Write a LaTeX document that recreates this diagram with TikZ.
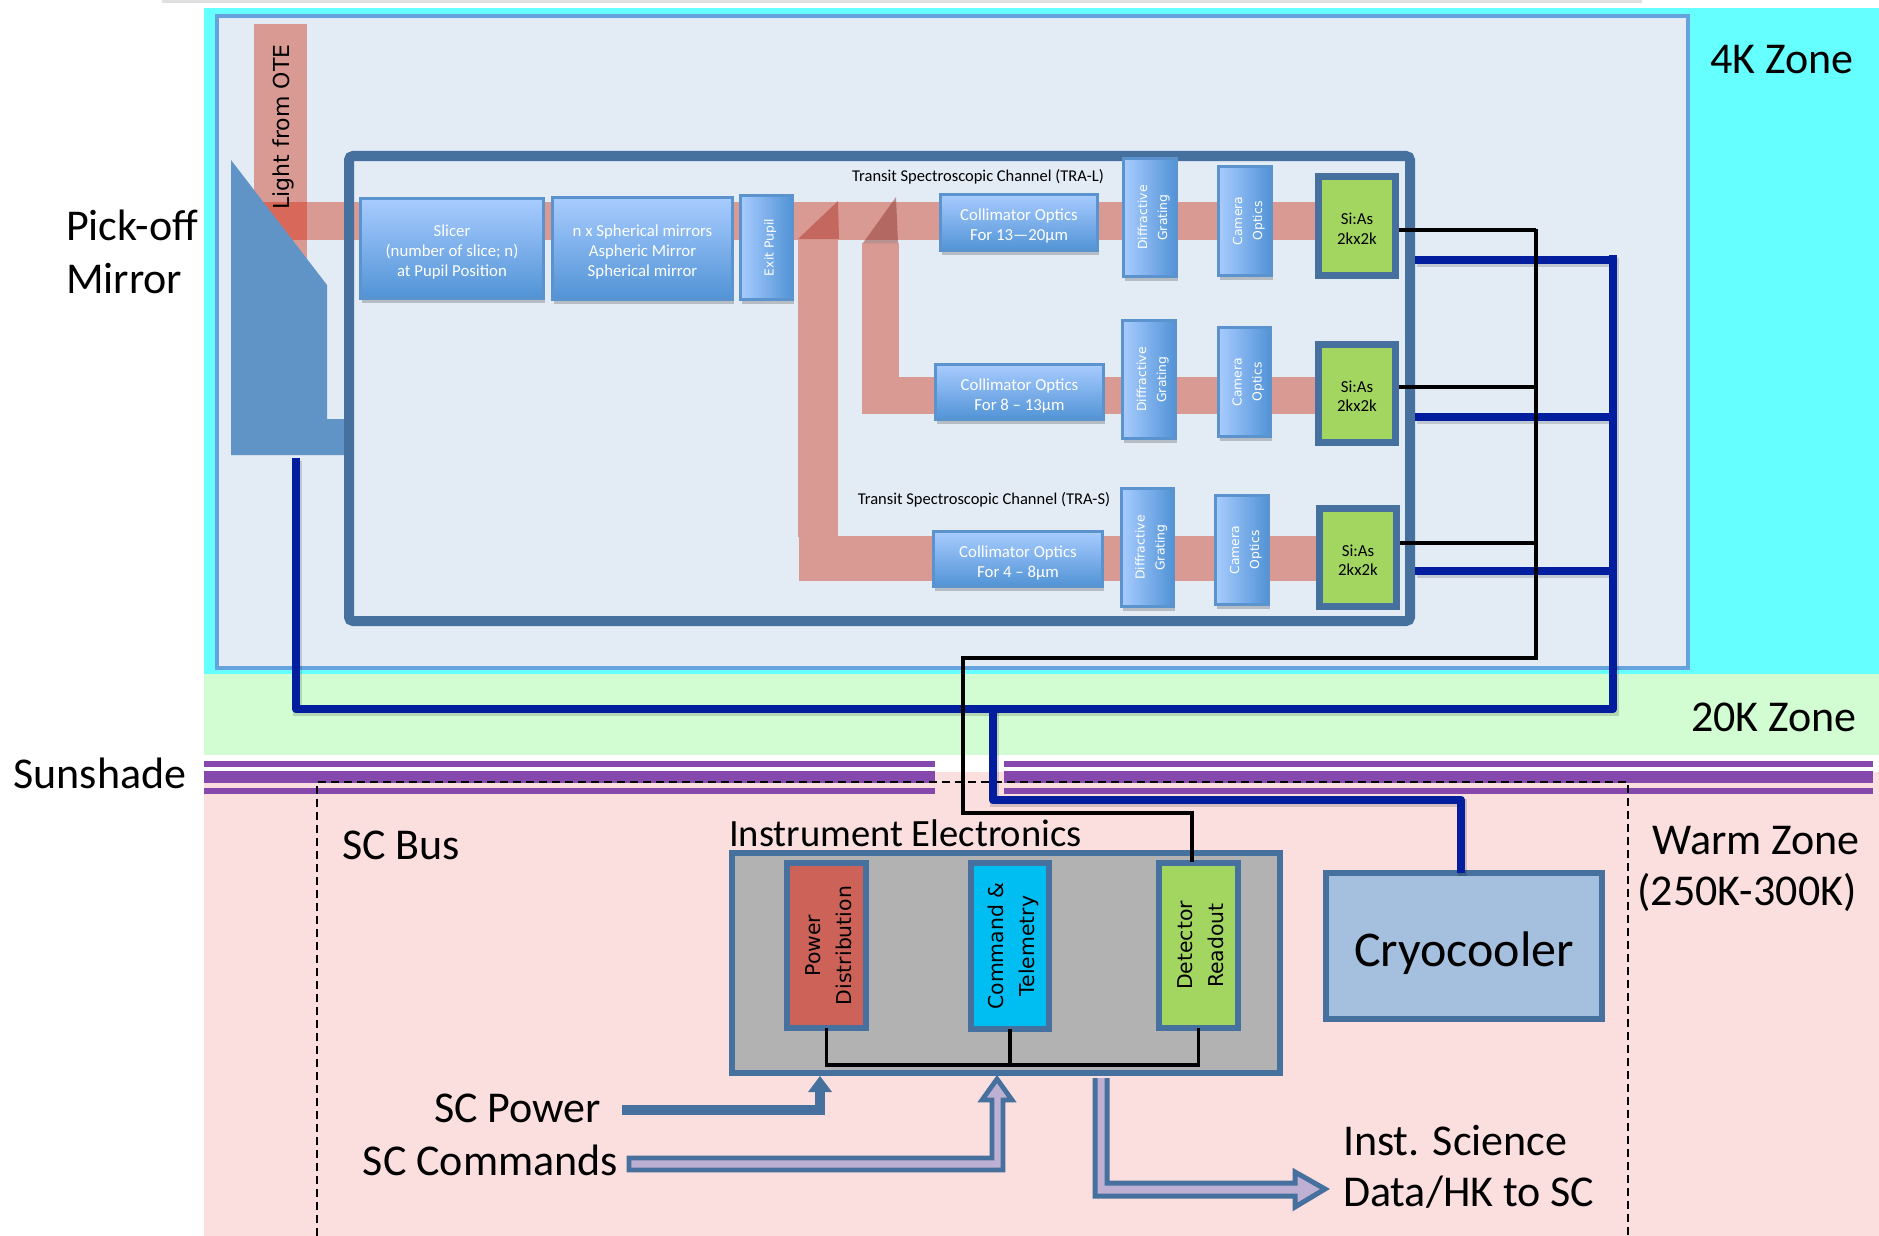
\documentclass[tikz,border=0pt]{standalone}
\usepackage{fontspec}
\usepackage{graphicx}
\setmainfont{Carlito}
\newfontfamily\wide{DejaVu Sans}
\usetikzlibrary{shadows,arrows.meta}
\definecolor{cyanz}{HTML}{66FFFF}
\definecolor{fourk}{HTML}{E3EBF5}
\definecolor{fourkb}{HTML}{66A2DD}
\definecolor{greenz}{HTML}{D2FDD2}
\definecolor{pinkz}{HTML}{FBDFDF}
\definecolor{purp}{HTML}{8549AD}
\definecolor{steel}{HTML}{46709D}
\definecolor{mirror}{HTML}{6093C6}
\definecolor{beam}{HTML}{DA9A94}
\definecolor{beamd}{HTML}{D8695A}
\definecolor{wire}{HTML}{021D9E}
\definecolor{btop}{HTML}{A8CCFF}
\definecolor{bbot}{HTML}{5193D6}
\definecolor{bedge}{HTML}{5A93CE}
\definecolor{lime}{HTML}{A2D661}
\definecolor{redb}{HTML}{CD6358}
\definecolor{skyb}{HTML}{00BEF2}
\definecolor{cryo}{HTML}{A5BFDE}
\definecolor{lil}{HTML}{BEB0D2}
\definecolor{splita}{HTML}{B0352A}
\definecolor{splitb}{HTML}{8E3A32}
\newcommand\fs[2]{\fontsize{#1}{#2}\selectfont}
\newcommand\rot[1]{\hspace*{3pt}\rotatebox{90}{\begin{tabular}{@{}c@{}}#1\end{tabular}}}
\newcommand\tpa{\rule{0pt}{9.5pt}}
\newcommand\tpb{\rule{0pt}{8.5pt}}
\newcommand\bx[8][3]{%
  \pgfmathsetmacro\cx{(#3+#5)/2}\pgfmathsetmacro\cy{(#4+#6)/2}%
  \pgfmathsetmacro\ww{(#5-#3-#1)*0.5}\pgfmathsetmacro\hh{(#6-#4-#1)*0.5}%
  \pgfmathsetmacro\lw{#1*0.5}%
  \node[#7,line width=\lw pt,minimum width=\ww pt,minimum height=\hh pt,inner sep=0pt,outer sep=0pt] (#2) at (\cx,\cy) {#8};}
\tikzset{
  softshadow/.style={drop shadow={shadow xshift=0.5pt,shadow yshift=-2pt,opacity=.2,fill=black}},
  hbox/.style={draw=bedge,top color=btop,bottom color=bbot,softshadow,text=white,align=center,font=\fs{8.4}{9.9}},
  vbox/.style={draw=bedge,left color=btop,right color=bbot,softshadow,text=white,font=\wide\fs{6.2}{10}},
  detbox/.style={draw=steel,fill=lime,text=black,align=center,font=\fs{8.4}{9.9}},
  elbox/.style={draw=steel,text=black,font=\wide\fs{10.2}{15.5}},
  label/.style={inner sep=0pt,outer sep=0pt,text=black},
  bar/.style={fill=purp,draw=none},
  splitter/.style={fill=#1,fill opacity=.5,draw=none},
  signal/.style={draw=black,line width=1.6pt,line join=miter},
  cool/.style={draw=wire,line width=4.2pt,line join=round,preaction={draw=black,draw opacity=.15,line width=4.2pt,transform canvas={xshift=.8pt,yshift=-1.5pt}}},
  bound/.style={draw=black,line width=.6pt,dash pattern=on 4pt off 2.5pt},
  hollow/.style={draw=steel,fill=lil,line width=2.4pt,line join=miter},
}
\begin{document}
\begin{tikzpicture}[x=0.5pt,y=-0.5pt]
\useasboundingbox (0,0) rectangle (1879,1236);
\fill[white] (0,0) rectangle (1879,1236);
% zones
\fill[black!12] (162,0) rectangle (1642,3);
\fill[cyanz] (204,8) rectangle (1879,674);
\fill[fourk,draw=fourkb,line width=2pt] (217,16) rectangle (1688,668);
\fill[greenz] (204,674) rectangle (1879,755);
\fill[pinkz] (204,772) rectangle (1879,1236);
% light path
\fill[beam] (254,24) rectangle (307,270);
\fill[beam] (270,202) rectangle (1320,240);
\fill[beamd] (254,202) rectangle (307,240);
\fill[beam] (798,240) rectangle (838,537);
\fill[beam] (799,536) rectangle (1320,581);
\fill[beam] (862,243) rectangle (899,377);
\fill[beam] (862,377) rectangle (1320,414);
\fill[splitter=splita] (798,239) -- (838,201) -- (839,239) -- cycle;
\fill[splitter=splitb] (863,243) -- (896,197) -- (898,243) -- cycle;
% mirror
\fill[mirror] (231,160) -- (327,285) -- (327,419) -- (344,419) -- (344,455) -- (231,455) -- cycle;
% instrument box
\draw[steel,line width=5pt,rounded corners=2pt] (349,156) rectangle (1410,621);
\node[label,rotate=90,font=\wide\fs{11}{13}] (ote) at (283,127) {Light from OTE};
% optics
\bx{slicer}{359}{197}{545}{300}{hbox}{\tpa Slicer\\(number of slice; n)\\at Pupil Position}
\bx{sphere}{551}{196}{734}{301}{hbox}{\tpa n x Spherical mirrors\\Aspheric Mirror\\Spherical mirror}
\bx{exit}{739}{194}{794}{301}{vbox}{\rot{Exit Pupil}}
\bx{coll}{939}{193}{1099}{252}{hbox}{\tpa Collimator Optics\\For 13---20µm}
\bx{gratl}{1122}{157}{1178}{278}{vbox}{\rot{Diffractive\\Grating}}
\bx{caml}{1217}{165}{1273}{277}{vbox}{\rot{Camera\\Optics}}
\bx[7]{sil}{1315}{173}{1399}{279}{detbox}{\tpb Si:As\\2kx2k}
\bx{colm}{934}{363}{1105}{421}{hbox}{\tpa Collimator Optics\\For 8 -- 13µm}
\bx{gratm}{1121}{319}{1177}{440}{vbox}{\rot{Diffractive\\Grating}}
\bx{camm}{1217}{326}{1272}{438}{vbox}{\rot{Camera\\Optics}}
\bx[7]{sim}{1315}{341}{1399}{446}{detbox}{\tpb Si:As\\2kx2k}
\bx{cols}{932}{530}{1104}{588}{hbox}{\tpa Collimator Optics\\For 4 -- 8µm}
\bx{grats}{1120}{487}{1175}{608}{vbox}{\rot{Diffractive\\Grating}}
\bx{cams}{1214}{494}{1270}{606}{vbox}{\rot{Camera\\Optics}}
\bx[7]{sis}{1316}{505}{1400}{610}{detbox}{\tpb Si:As\\2kx2k}
\node[label,font=\fs{8.25}{10}] (tral) at (978,177) {Transit Spectroscopic Channel (TRA-L)};
\node[label,font=\fs{8.25}{10}] (tras) at (984,500) {Transit Spectroscopic Channel (TRA-S)};
% sunshade
\fill[white] (935,755) rectangle (1004,772);
\fill[bar] (204,761) rectangle (935,767);
\fill[bar] (204,771) rectangle (935,783);
\fill[bar] (204,788) rectangle (935,794);
\fill[bar] (1004,761) rectangle (1873,767);
\fill[bar] (1004,771) rectangle (1873,783);
\fill[bar] (1004,788) rectangle (1873,794);
% boundaries
\coordinate (bl) at (317,782);
\coordinate (br) at (1628,782);
\coordinate (blb) at (317,1236);
\coordinate (brb) at (1628,1236);
\draw[bound] (blb) -- (bl) -- (br) -- (brb);
% electronics
\bx[6]{ie}{729}{850}{1283}{1076}{draw=steel,fill=black!30}{}
\bx[6]{power}{784}{860}{869}{1031}{elbox,fill=redb}{\rot{Power\\Distribution}}
\bx[6]{cmd}{968}{860}{1052}{1032}{elbox,fill=skyb}{\rot{Command \&\\Telemetry}}
\bx[6]{det}{1156}{860}{1241}{1031}{elbox,fill=lime}{\rot{Detector\\Readout}}
\bx[6]{cc}{1323}{870}{1605}{1022}{draw=steel,fill=cryo,font=\fs{25}{28},text=black}{\raisebox{-10pt}[0pt][0pt]{Cryocooler}}
% cooling lines
\coordinate (hw1) at (1415,260);
\coordinate (hw2) at (1415,417);
\coordinate (hw3) at (1415,571);
\coordinate (tw) at (1613,255);
\coordinate (twb) at (1613,709);
\coordinate (mw) at (296,458);
\coordinate (mwb) at (296,709);
\coordinate (jw) at (993,709);
\coordinate (jwb) at (993,800);
\coordinate (cwb) at (1461,800);
\draw[cool] (hw1) -- (hw1 -| tw);
\draw[cool] (hw2) -- (hw2 -| tw);
\draw[cool] (hw3) -- (hw3 -| tw);
\draw[cool] (mw) -- (mwb) -- (twb) -- (tw);
\draw[cool] (jw) -- (jwb) -- (cwb) -- (cwb |- cc.north);
% signal lines
\coordinate (k1) at (1399,230);
\coordinate (k2) at (1399,387);
\coordinate (k3) at (1400,543);
\coordinate (kt) at (1536,229);
\coordinate (kb) at (1536,658);
\coordinate (kl) at (963,658);
\coordinate (kd) at (963,813);
\coordinate (kr) at (1192,813);
\coordinate (ke) at (1192,862);
\draw[signal] (k1) -- (k1 -| kt);
\draw[signal] (k2) -- (k2 -| kt);
\draw[signal] (k3) -- (k3 -| kt);
\draw[signal] (kt) -- (kb) -- (kl) -- (kd) -- (kr) -- (ke);
\coordinate (bus) at (0,1065);
\draw[signal] (power.south) -- (power.south |- bus) -- (det.south |- bus) -- (det.south);
\draw[signal] (cmd.south) -- (cmd.south |- bus);
% external arrows
\coordinate (pws) at (622,1110);
\coordinate (pwt) at (820,1076);
\draw[steel,line width=5pt,line join=miter] (pws) -- (pws -| pwt) -- ++(0,-22);
\fill[steel] (820,1076) -- (832,1092) -- (808,1092) -- cycle;
\draw[hollow] (629,1158) -- (992,1158) -- (992,1100) -- (982,1100) -- (997,1079) -- (1012,1100) -- (1003,1100) -- (1003,1170) -- (629,1170) -- cycle;
\draw[hollow,line width=2.5pt] (1095,1078) -- (1095,1196) -- (1295,1196) -- (1295,1207) -- (1325,1189) -- (1295,1172) -- (1295,1183) -- (1107,1183) -- (1107,1078);
% labels
\node[label,font=\fs{22}{26}] (z4) at (1782,60) {4K Zone};
\node[label,font=\fs{22}{26}] (z20) at (1774,717) {20K Zone};
\node[label,anchor=west,font=\fs{22}{26.5},align=left] (pick) at (66,252) {Pick-off\\Mirror};
\node[label,font=\fs{22}{26}] (sun) at (100,773) {Sunshade};
\node[label,font=\fs{22}{26}] (scb) at (401,845) {SC Bus};
\node[label,anchor=west,font=\fs{19.3}{24}] (iel) at (729,833) {Instrument Electronics};
\node[label,font=\fs{22}{26}] (warma) at (1756,841) {Warm Zone};
\node[label,font=\fs{22}{26}] (warmb) at (1747,892) {(250K-300K)};
\node[label,anchor=east,font=\fs{22}{26}] (scp) at (601,1108) {SC Power};
\node[label,anchor=east,font=\fs{22}{26}] (scc) at (618,1160) {SC Commands};
\node[label,anchor=west,font=\fs{22}{25.5},align=left] (sci) at (1343,1167) {Inst. Science\\Data/HK to SC};
\end{tikzpicture}
\end{document}
